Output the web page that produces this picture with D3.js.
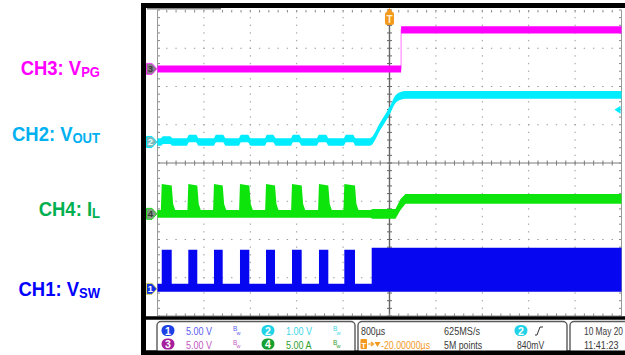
<!DOCTYPE html>
<html><head><meta charset="utf-8">
<script src="https://cdn.jsdelivr.net/npm/d3@7/dist/d3.min.js"></script>
<style>html,body{margin:0;padding:0;background:#fff;overflow:hidden}</style>
</head><body><svg id="c" width="625" height="355"></svg>
<script>
// ---------- data ----------
const timeRangeUs = [-4000, 4000];          // 800 µs/div, 10 divisions
const divRange = [-4, 4];                   // 8 vertical divisions
const channelNames = ["CH1", "CH2", "CH3", "CH4"];
const channelScales = [5, 1, 5, 5];         // per division
const channelUnits = ["V", "V", "V", "A"];
const channelOffsetsDiv = [-3.29, 0.55, 2.46, -1.33];
const labelMain = ["CH1: V", "CH2: V", "CH3: V", "CH4: I"];
const labelSub = ["SW", "OUT", "PG", "L"];

// switching bursts (µs)
const pulseStartUs = [-3927, -3469, -3026, -2578, -2129, -1681, -1216, -779];
const pulseEndUs   = [-3755, -3314, -2876, -2417, -1974, -1514, -1055, -595];

// CH1 V_SW (V)
const vswLowBand = [-0.39, 0.65];
const vswPulseHigh = 5.1;
const vswContStartUs = -307;
const vswContHigh = 5.36;

// CH4 I_L (A)
const ilLowBand = [-0.52, 0.52];
const ilPulsePeak = 3.9;
const ilPulseTail = 1.3;
const ilPreRamp = [[-330, -0.52, 0.52], [-290, -0.65, 0.65], [103, -0.65, 0.65], [190, 0.5, 1.95], [276, 1.31, 2.61], [4000, 1.31, 2.61]];

// CH2 V_OUT (V) centre line
const vout = [[-4000,0],[-3940,0],[-3905,0.05],[-3784,0.05],[-3740,0],
  [-3495,0],[-3457,0.09],[-3336,0.09],[-3290,0],
  [-3030,0],[-2991,0.09],[-2871,0.09],[-2825,0],
  [-2600,0],[-2560,0.09],[-2440,0.09],[-2395,0],
  [-2150,0],[-2112,0.09],[-2008,0.09],[-1960,0],
  [-1700,0],[-1664,0.09],[-1560,0.09],[-1515,0],
  [-1255,0],[-1216,0.09],[-1095,0.09],[-1050,0],
  [-790,0],[-750,0.09],[-629,0.09],[-585,0],
  [-336,0],[-164,0.40],[9,0.84],[95,1.10],[181,1.20],[284,1.23],[4000,1.23]];
const voutBand = 0.1;

// CH3 V_PG (V)
const vpg = [[-4000, 0], [200, 0], [200, 5.1], [4000, 5.1]];
const vpgBand = 0.46;

// readouts
const horizScaleText = "800µs";
const horizPosText = "-20.00000µs";
const sampleRateText = "625MS/s";
const recordText = "5M points";
const trigSource = 2;
const trigLevelV = 0.84;
const trigLevelText = "840mV";
const dateText = "10 May 20";
const timeText = "11:41:23";

// ---------- drawing ----------
const svg = d3.select("#c");
const L = 157.5, R = 621.5, T = 10, B = 316;
const x = d3.scaleLinear().domain(timeRangeUs).range([L, R]);
const yDiv = d3.scaleLinear().domain(divRange).range([B, T]);
const yCh = (ch, v) => yDiv(channelOffsetsDiv[ch] + v / channelScales[ch]);

const waveColors = ["#0606f0", "#00ecff", "#ff00ff", "#0ce40c"];
const labelColors = ["#0000ff", "#00b0f0", "#ff00ff", "#00b050"];

// frame
svg.append("rect").attr("x", 141).attr("y", 3).attr("width", 484).attr("height", 352).attr("fill", "#000");
svg.append("rect").attr("x", 146).attr("y", 8).attr("width", 479).attr("height", 308.5).attr("fill", "#fff");
svg.append("rect").attr("x", 146).attr("y", 319.5).attr("width", 479).attr("height", 31).attr("fill", "#fff");
svg.append("rect").attr("x", 147).attr("y", 8).attr("width", 74).attr("height", 1.5).attr("fill", "#888");

// grid
const g = svg.append("g");
const minorX = (R - L) / 50, minorY = (B - T) / 40;
d3.range(1, 10).filter(i => i !== 5).forEach(i => {
  const xv = x(timeRangeUs[0] + 800 * i);
  g.append("line").attr("x1", xv).attr("x2", xv).attr("y1", T).attr("y2", B)
    .attr("stroke", "#9a9a9a").attr("stroke-width", 1)
    .attr("stroke-dasharray", `1.4,${minorY - 1.4}`).attr("stroke-dashoffset", 0.7);
});
d3.range(1, 8).filter(j => j !== 4).forEach(j => {
  const yv = yDiv(divRange[0] + j);
  g.append("line").attr("x1", L).attr("x2", R).attr("y1", yv).attr("y2", yv)
    .attr("stroke", "#9a9a9a").attr("stroke-width", 1)
    .attr("stroke-dasharray", `1.4,${minorX - 1.4}`).attr("stroke-dashoffset", 0.7);
});
const xc = x(0), yc = yDiv(0);
g.append("line").attr("x1", L).attr("x2", R).attr("y1", yc).attr("y2", yc).attr("stroke", "#7a7a7a").attr("stroke-width", 1);
g.append("line").attr("x1", xc).attr("x2", xc).attr("y1", T).attr("y2", B).attr("stroke", "#666").attr("stroke-width", 1.4);
d3.range(0, 51).forEach(i => {
  const xv = L + i * minorX;
  g.append("line").attr("x1", xv).attr("x2", xv).attr("y1", yc - 2.5).attr("y2", yc + 2.5).attr("stroke", "#7a7a7a");
  g.append("line").attr("x1", xv).attr("x2", xv).attr("y1", T).attr("y2", T + 2.5).attr("stroke", "#888");
  g.append("line").attr("x1", xv).attr("x2", xv).attr("y1", B - 2.5).attr("y2", B).attr("stroke", "#888");
});
d3.range(0, 41).forEach(j => {
  const yv = T + j * minorY;
  g.append("line").attr("x1", xc - 2.5).attr("x2", xc + 2.5).attr("y1", yv).attr("y2", yv).attr("stroke", "#666");
  g.append("line").attr("x1", L).attr("x2", L + 2.5).attr("y1", yv).attr("y2", yv).attr("stroke", "#888");
  g.append("line").attr("x1", R - 2.5).attr("x2", R).attr("y1", yv).attr("y2", yv).attr("stroke", "#888");
});
g.append("line").attr("x1", L).attr("x2", L).attr("y1", T).attr("y2", B).attr("stroke", "#999");
g.append("line").attr("x1", R).attr("x2", R).attr("y1", T).attr("y2", B).attr("stroke", "#999");
g.append("line").attr("x1", L).attr("x2", R).attr("y1", B).attr("y2", B).attr("stroke", "#888");

// waveforms
const bandArea = ch => d3.area().x(d => x(d[0])).y0(d => yCh(ch, d[1])).y1(d => yCh(ch, d[2]));

// CH1 V_SW
const vswPts = [[timeRangeUs[0], vswLowBand[0], vswLowBand[1]]];
pulseStartUs.forEach((s, i) => {
  const e = pulseEndUs[i];
  vswPts.push([s, vswLowBand[0], vswLowBand[1]], [s, vswLowBand[0], vswPulseHigh],
              [e, vswLowBand[0], vswPulseHigh], [e, vswLowBand[0], vswLowBand[1]]);
});
vswPts.push([vswContStartUs, vswLowBand[0], vswLowBand[1]], [vswContStartUs, vswLowBand[0], vswContHigh],
            [timeRangeUs[1], vswLowBand[0], vswContHigh]);
svg.append("path").attr("d", bandArea(0)(vswPts)).attr("fill", waveColors[0]);

// CH4 I_L
const ilPts = [[timeRangeUs[0], ilLowBand[0], ilLowBand[1]]];
pulseStartUs.forEach((s, i) => {
  const e = pulseEndUs[i];
  ilPts.push([s - 15, ilLowBand[0], ilLowBand[1]], [s, ilLowBand[0], ilPulsePeak],
             [e, ilLowBand[0], ilPulsePeak - 0.2], [e + 25, ilLowBand[0], ilPulseTail], [e + 60, ilLowBand[0], ilLowBand[1]]);
});
ilPreRamp.forEach(p => ilPts.push(p));
svg.append("path").attr("d", bandArea(3)(ilPts)).attr("fill", waveColors[3]);

// CH2 V_OUT
svg.append("path")
  .attr("d", d3.area().curve(d3.curveMonotoneX).x(d => x(d[0]))
    .y0(d => yCh(1, d[1] - voutBand)).y1(d => yCh(1, d[1] + voutBand))(vout))
  .attr("fill", waveColors[1]);

// CH3 V_PG
svg.append("path").attr("d", d3.line().x(d => x(d[0])).y(d => yCh(2, d[1]))(vpg))
  .attr("fill", "none").attr("stroke", "#ff8cff").attr("stroke-width", 1.2);
svg.append("path")
  .attr("d", d3.area().x(d => x(d[0])).y0(d => yCh(2, d[1] - vpgBand)).y1(d => yCh(2, d[1] + vpgBand))(vpg))
  .attr("fill", waveColors[2]);

// channel ground markers
const markerFill = ["#1432e6", "#7fb8bd", "#8a7a8c", "#7f9a7f"];
const markerEdge = ["#d8d860", "#00ecff", "#ff40ff", "#20e020"];
const markerText = ["#ffffff", "#e8ffff", "#3a3a3a", "#3a3a3a"];
[2, 1, 3, 0].forEach(ch => {
  const yv = yDiv(channelOffsetsDiv[ch]);
  svg.append("path").attr("d", `M146.5,${yv - 5.5} L152,${yv - 5.5} L157,${yv} L152,${yv + 5.5} L146.5,${yv + 5.5} Z`)
    .attr("fill", markerFill[ch]).attr("stroke", markerEdge[ch]).attr("stroke-width", 1);
  svg.append("text").attr("x", 150.5).attr("y", yv + 3.5).attr("text-anchor", "middle")
    .attr("font-family", "Liberation Sans, Arial, sans-serif").attr("font-size", 9.5).attr("font-weight", "bold")
    .attr("fill", markerText[ch]).text(channelNames[ch].slice(2));
});

// trigger position marker
const xt = x(0);
svg.append("path").attr("d", `M${xt},8 L${xt + 3},12 L${xt - 3},12 Z`).attr("fill", "#f39a1e");
svg.append("rect").attr("x", xt - 4.5).attr("y", 12).attr("width", 9).attr("height", 13).attr("rx", 2).attr("fill", "#f39a1e");
svg.append("text").attr("x", xt).attr("y", 22.5).attr("text-anchor", "middle").attr("font-family", "Liberation Sans, Arial, sans-serif")
  .attr("font-size", 10).attr("font-weight", "bold").attr("fill", "#fff2d0").text("T");

// trigger level marker (right)
const ytl = yCh(trigSource - 1, trigLevelV);
svg.append("path").attr("d", `M${R - 7},${ytl} L${R - 1},${ytl - 4} L${R - 1},${ytl + 4} Z`).attr("fill", waveColors[1]);

// left labels
const labelBaselines = [296, 141, 75, 216];
[2, 1, 3, 0].forEach(ch => {
  const t = svg.append("g").attr("transform", `translate(100,${labelBaselines[ch]}) scale(0.9,1)`)
    .append("text").attr("text-anchor", "end").attr("font-family", "Liberation Sans, Arial, sans-serif")
    .attr("font-weight", "bold").attr("fill", labelColors[ch]);
  t.append("tspan").attr("font-size", 20.5).text(labelMain[ch]);
  t.append("tspan").attr("font-size", 14.5).attr("dy", 2).text(labelSub[ch]);
});

// bottom panel
svg.append("rect").attr("x", 146).attr("y", 316.5).attr("width", 479).attr("height", 3).attr("fill", "#000");
const boxes = [[157, 355], [358, 567], [570, 640]];
boxes.forEach(b => svg.append("rect").attr("x", b[0]).attr("y", 321.5).attr("width", b[1] - b[0]).attr("height", 36)
  .attr("rx", 4).attr("fill", "#fff").attr("stroke", "#5a5a5a").attr("stroke-width", 1.4));
svg.append("rect").attr("x", 141).attr("y", 350.5).attr("width", 484).attr("height", 5).attr("fill", "#000");

const FF = "Liberation Sans, Arial, sans-serif";
function ptext(xp, yp, str, color, size = 11, sx = 0.8) {
  svg.append("text").attr("transform", `translate(${xp},${yp}) scale(${sx},1)`)
    .attr("font-family", FF).attr("font-size", size).attr("fill", color).text(str);
}
const badgeColors = ["#1c3fe6", "#22d2e6", "#a4209c", "#17a030"];
const readColors = ["#5c5cf0", "#3ed6e6", "#c458c4", "#2fa02f"];
const rowY = [335, 348.5];
const colX = [168, 268];
function badge(cx, cy, n, fill) {
  svg.append("rect").attr("x", cx - 6.5).attr("y", cy - 5.5).attr("width", 13).attr("height", 11).attr("rx", 5.5).attr("fill", fill);
  svg.append("text").attr("x", cx).attr("y", cy + 4).attr("text-anchor", "middle").attr("font-family", FF)
    .attr("font-size", 10.5).attr("font-weight", "bold").attr("fill", "#fff").text(n);
}
[0, 1, 2, 3].forEach(ch => {
  const col = ch === 0 || ch === 2 ? 0 : 1;
  const row = ch < 2 ? 0 : 1;
  const cx = colX[col], by = rowY[row];
  badge(cx, by - 4.5, ch + 1, badgeColors[ch]);
  ptext(cx + 18, by, d3.format(".2f")(channelScales[ch]) + " " + channelUnits[ch], readColors[ch], 11, 0.82);
  svg.append("text").attr("x", cx + 65).attr("y", by - 4).attr("font-family", FF).attr("font-size", 6.5)
    .attr("fill", readColors[ch]).text("B");
  svg.append("text").attr("x", cx + 68.5).attr("y", by - 0.5).attr("font-family", FF).attr("font-size", 5.5)
    .attr("fill", readColors[ch]).text("w");
});

// horizontal readouts
ptext(361, rowY[0], horizScaleText, "#3a3a3a", 11, 0.8);
svg.append("rect").attr("x", 360.5).attr("y", 339).attr("width", 6.5).attr("height", 10).attr("rx", 1).attr("fill", "#f39a1e");
svg.append("text").attr("x", 363.75).attr("y", 347.5).attr("text-anchor", "middle").attr("font-family", FF)
  .attr("font-size", 8).attr("font-weight", "bold").attr("fill", "#fff").text("T");
svg.append("path").attr("d", "M368,344 L373,344 M371,342 L373.5,344 L371,346").attr("stroke", "#f39a1e").attr("fill", "none").attr("stroke-width", 1.2);
svg.append("path").attr("d", "M374.5,342 L380.5,342 L377.5,347 Z").attr("fill", "#f39a1e");
ptext(381, rowY[1], horizPosText, "#f39a1e", 11, 0.8);
ptext(444, rowY[0], sampleRateText, "#3a3a3a", 11, 0.83);
ptext(444, rowY[1], recordText, "#3a3a3a", 11, 0.8);

// trigger readout
badge(521, rowY[0] - 4.5, trigSource, badgeColors[trigSource - 1]);
svg.append("path").attr("d", `M535,${rowY[0]} L537,${rowY[0]} L540,${rowY[0] - 8} L543,${rowY[0] - 8}`)
  .attr("fill", "none").attr("stroke", "#333").attr("stroke-width", 1);
ptext(517, rowY[1], trigLevelText, "#3a3a3a", 11, 0.78);

// date/time
ptext(584, rowY[0], dateText, "#3a3a3a", 11, 0.76);
ptext(584, rowY[1], timeText, "#3a3a3a", 11, 0.82);
</script>
</body></html>
